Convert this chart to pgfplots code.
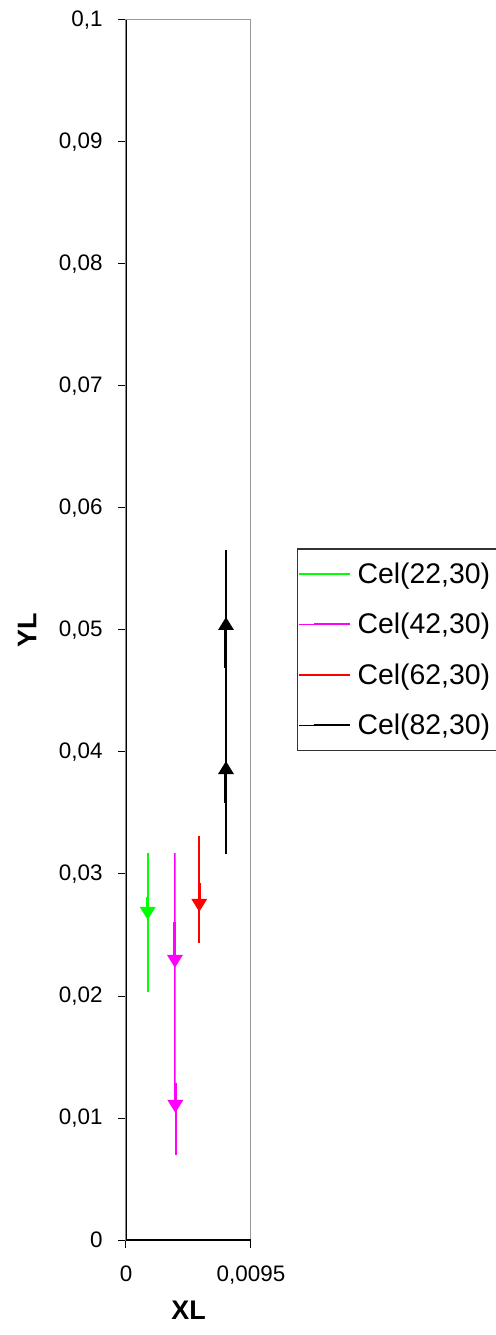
\documentclass[border=0pt]{standalone}
\usepackage{fontspec}
\setmainfont{Liberation Sans}
\usepackage{pgfplots}
\pgfplotsset{compat=1.18}
\usetikzlibrary{arrows.meta}

\definecolor{xlgreen}{RGB}{0,255,0}
\definecolor{xlmag}{RGB}{255,0,255}
\definecolor{xlred}{RGB}{255,0,0}

\tikzset{
  thinln/.style={line width=1.6bp},
  arr/.style={line width=3bp, -{Triangle[width=15bp,length=13bp]}},
}

\begin{document}
\begin{tikzpicture}
\useasboundingbox (-126bp,-95bp) rectangle (370bp,1240bp);
\begin{axis}[
  at={(0,0)}, anchor=south west,
  scale only axis, width=125bp, height=1220bp,
  xmin=0, xmax=0.0095, ymin=0, ymax=0.1,
  scaled x ticks=false, scaled y ticks=false,
  xtick={0,0.0095}, xticklabels={0,{0,0095}},
  ytick={0,0.01,...,0.1},
  yticklabels={0,{0,01},{0,02},{0,03},{0,04},{0,05},{0,06},{0,07},{0,08},{0,09},{0,1}},
  xtick pos=bottom, ytick pos=left,
  tick align=outside, major tick length=8bp,
  tick style={black, line width=1bp},
  axis line style={gray!80, line width=1bp},
  ticklabel style={font=\fontsize{22.5}{26}\selectfont},
  yticklabel style={xshift=-12bp},
  xticklabel style={yshift=-14bp},
  xlabel={XL}, ylabel={YL},
  every axis x label/.style={at={(rel axis cs:0.5,-0.0574)}, anchor=center,
    font=\fontsize{27}{30}\selectfont\bfseries},
  every axis y label/.style={at={(rel axis cs:-0.792,0.5)}, anchor=center, rotate=90,
    font=\fontsize{27}{30}\selectfont\bfseries},
  legend style={at={(1.368,0.5672)}, anchor=north west,
    draw=black!80, line width=1.5bp,
    font=\fontsize{28.5}{30}\selectfont,
    inner xsep=0bp, inner ysep=12bp,
    row sep=24.5bp, column sep=5bp},
  legend cell align=left,
  legend image code/.code={\path (0bp,0bp) -- (51bp,0bp);
    \draw[#1, line width=2bp] (15bp,0bp) -- (51bp,0bp);},
]
% Cel(22,30)
\addplot[xlgreen, thinln] coordinates {(0.00165,0.03172) (0.00165,0.02033)};
\addlegendentry{Cel(22,30)\hspace*{12bp}}
\addplot[xlgreen, arr, forget plot] coordinates {(0.00165,0.02811) (0.00165,0.02623)};
% Cel(42,30)
\addplot[xlmag, thinln] coordinates {(0.00372,0.03172) (0.00372,0.01287) (0.0038,0.01200) (0.0038,0.00697)};
\addlegendentry{Cel(42,30)\hspace*{12bp}}
\addplot[xlmag, arr, forget plot] coordinates {(0.00372,0.02607) (0.00372,0.02230)};
\addplot[xlmag, arr, forget plot] coordinates {(0.00375,0.01287) (0.00375,0.01041)};
% Cel(62,30)
\addplot[xlred, thinln] coordinates {(0.00557,0.03311) (0.00557,0.02434)};
\addlegendentry{Cel(62,30)\hspace*{12bp}}
\addplot[xlred, arr, forget plot] coordinates {(0.00557,0.02926) (0.00557,0.02689)};
% Cel(82,30)
\addplot[black, thinln] coordinates {(0.0076,0.05656) (0.0076,0.03164)};
\addlegendentry{Cel(82,30)\hspace*{12bp}}
\addplot[black, arr, forget plot] coordinates {(0.0076,0.04689) (0.0076,0.05107)};
\addplot[black, arr, forget plot] coordinates {(0.0076,0.03582) (0.0076,0.03926)};
% black left and bottom axis lines
\draw[black, line width=1.2bp] (rel axis cs:0,1) -- (rel axis cs:0,0) -- (rel axis cs:1,0);
\end{axis}
\end{tikzpicture}
\end{document}
